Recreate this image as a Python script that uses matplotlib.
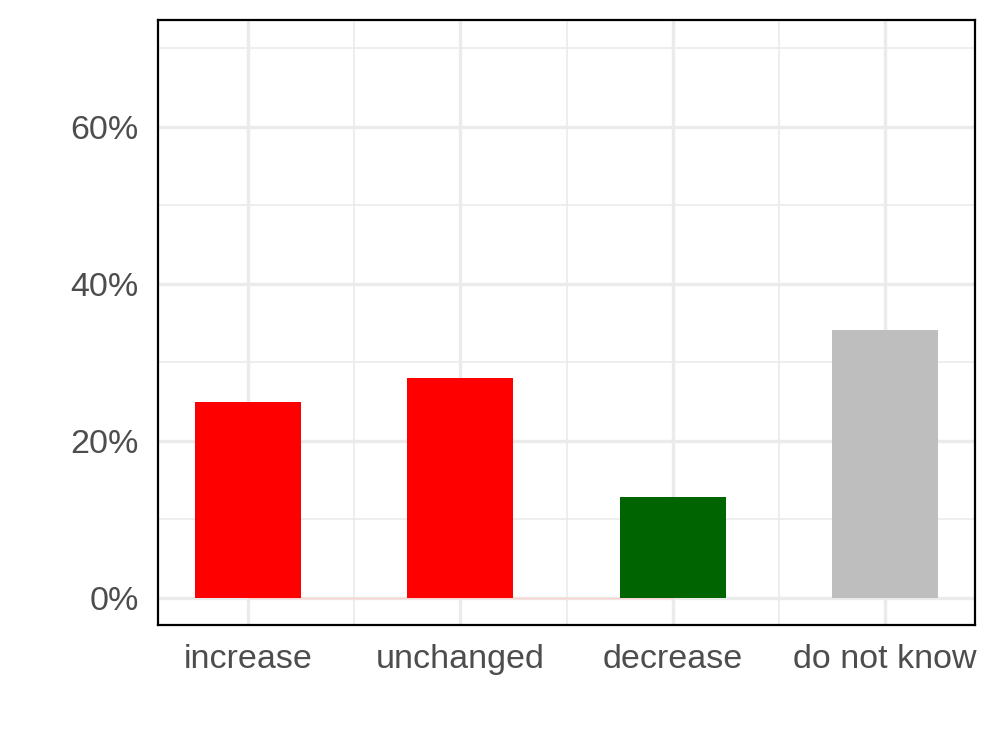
import numpy as np
import matplotlib
matplotlib.use("Agg")
import matplotlib.pyplot as plt
from matplotlib.ticker import FixedLocator, PercentFormatter

# answer categories and their shares (percent)
categories = ["increase", "unchanged", "decrease", "do not know"]
shares = [25.0, 28.0, 12.9, 34.1]
bar_colors = ["#FF0000", "#FF0000", "#006400", "#BEBEBE"]
y_ticks = [0, 20, 40, 60]

plt.rcParams["font.family"] = ["Liberation Sans", "DejaVu Sans"]

fig = plt.figure(figsize=(9.96, 7.47), dpi=100)
ax = fig.add_axes([0.1586, 0.1633, 0.8204, 0.8099])

x = np.arange(len(categories))

# grid: major and minor lines, ggplot style
ax.set_xticks(x)
ax.xaxis.set_minor_locator(FixedLocator(x[:-1] + 0.5))
ax.set_yticks(y_ticks)
ax.yaxis.set_minor_locator(FixedLocator([t + 10 for t in y_ticks]))
ax.grid(which="major", color="#ebebeb", linewidth=2.4)
ax.grid(which="minor", color="#ebebeb", linewidth=1.2)
ax.set_axisbelow(True)

# faint zero line of the red group
ax.plot([x[0], x[2]], [0, 0], color="#ffd0d0", linewidth=1.0, zorder=1)

ax.bar(x, shares, width=0.5, color=bar_colors, zorder=2)

ax.set_xlim(-0.424, len(categories) - 1 + 0.424)
ax.set_ylim(-3.44, 73.6)
ax.yaxis.set_major_formatter(PercentFormatter(decimals=0))
ax.set_xticklabels(categories)

ax.tick_params(which="both", length=0)
ax.tick_params(axis="y", labelsize=24.5, labelcolor="#4d4d4d", pad=14)
ax.tick_params(axis="x", labelsize=24.5, labelcolor="#4d4d4d", pad=14)

for s in ax.spines.values():
    s.set_color("black")
    s.set_linewidth(1.6)

fig.savefig("out.png", dpi=100)
